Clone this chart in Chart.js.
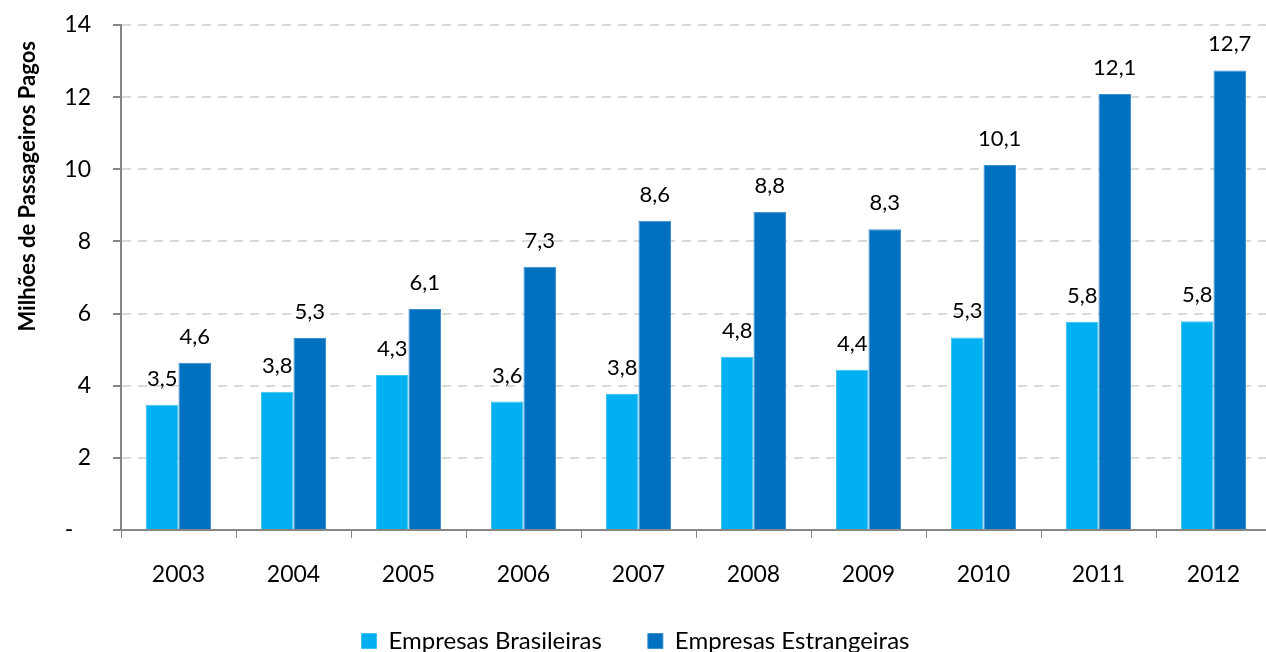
<!DOCTYPE html>
<html>
<head>
<meta charset="utf-8">
<script src="https://cdn.jsdelivr.net/npm/chart.js@4"></script>
<style>
  html, body { margin: 0; padding: 0; background: #fff; overflow: hidden; }
  #wrap { width: 1280px; height: 652px; position: relative; }
</style>
</head>
<body>
<div id="wrap"><canvas id="myChart"></canvas></div>
<script>
const anos = ['2003', '2004', '2005', '2006', '2007', '2008', '2009', '2010', '2011', '2012']
const brasileiras = [3.47, 3.83, 4.30, 3.56, 3.77, 4.80, 4.44, 5.34, 5.77, 5.79]
const estrangeiras = [4.64, 5.32, 6.13, 7.30, 8.57, 8.82, 8.34, 10.12, 12.09, 12.74]
const yTicks = [0, 2, 4, 6, 8, 10, 12, 14]

const FONT = 'Lato, "Open Sans", sans-serif'
const fmt = v => v.toFixed(1).replace('.', ',')

// rótulos em cima das barras
const rotulos = {
    id: 'rotulos',
    afterDatasetsDraw(chart) {
        const ctx = chart.ctx
        ctx.save()
        ctx.font = '22px ' + FONT
        ctx.fillStyle = '#000'
        ctx.textAlign = 'center'
        ctx.textBaseline = 'alphabetic'
        chart.data.datasets.forEach((ds, i) => {
            chart.getDatasetMeta(i).data.forEach((bar, j) => {
                ctx.fillText(fmt(ds.data[j]), bar.x, bar.y - 19)
            })
        })
        ctx.restore()
    }
}

var ctx = document.getElementById('myChart')
var myChart = new Chart(ctx, {
    type: 'bar',
    data: {
        labels: anos,
        datasets: [{
            label: 'Empresas Brasileiras',
            data: brasileiras,
            backgroundColor: '#00B0F0',
            borderColor: '#3DC3F3',
            borderWidth: 1,
            barPercentage: 1.0,
            categoryPercentage: 0.565
        }, {
            label: 'Empresas Estrangeiras',
            data: estrangeiras,
            backgroundColor: '#0070C0',
            borderColor: '#3A8FD0',
            borderWidth: 1,
            barPercentage: 1.0,
            categoryPercentage: 0.565
        }]
    },
    options: {
        responsive: true,
        maintainAspectRatio: false,
        animation: false,
        layout: { padding: { top: 25, right: 9, left: 0, bottom: 0 } },
        plugins: {
            legend: {
                position: 'bottom',
                maxHeight: 69,
                labels: {
                    font: { family: FONT, size: 24 },
                    color: '#000',
                    boxWidth: 15,
                    boxHeight: 15,
                    padding: 46
                }
            },
            tooltip: { enabled: false }
        },
        scales: {
            x: {
                grid: {
                    drawOnChartArea: false,
                    drawTicks: true,
                    tickLength: 8,
                    tickColor: '#868686',
                    offset: true
                },
                border: { color: '#868686', width: 2 },
                ticks: {
                    font: { family: FONT, size: 23 },
                    color: '#000',
                    padding: 23
                },
                afterFit: s => { s.height = 53 }
            },
            y: {
                min: 0,
                max: 14,
                afterBuildTicks: s => { s.ticks = yTicks.map(v => ({ value: v })) },
                grid: {
                    color: '#D9D9D9',
                    lineWidth: 2,
                    tickLength: 8,
                    tickColor: '#868686',
                    tickWidth: 2
                },
                border: { color: '#868686', width: 2, dash: [9, 7] },
                ticks: {
                    font: { family: FONT, size: 23 },
                    color: '#000',
                    padding: 22,
                    callback: v => v === 0 ? '-   ' : v
                },
                title: {
                    display: true,
                    align: 'end',
                    text: 'Milhões de Passageiros Pagos   ',
                    font: { family: FONT, size: 22, weight: 'bold' },
                    color: '#000',
                    padding: { top: 15, bottom: 4 }
                },
                afterFit: s => {
                    s.width = 121
                    s.paddingTop = 0
                    s.paddingBottom = 0
                }
            }
        }
    },
    plugins: [rotulos]
})
</script>
</body>
</html>
